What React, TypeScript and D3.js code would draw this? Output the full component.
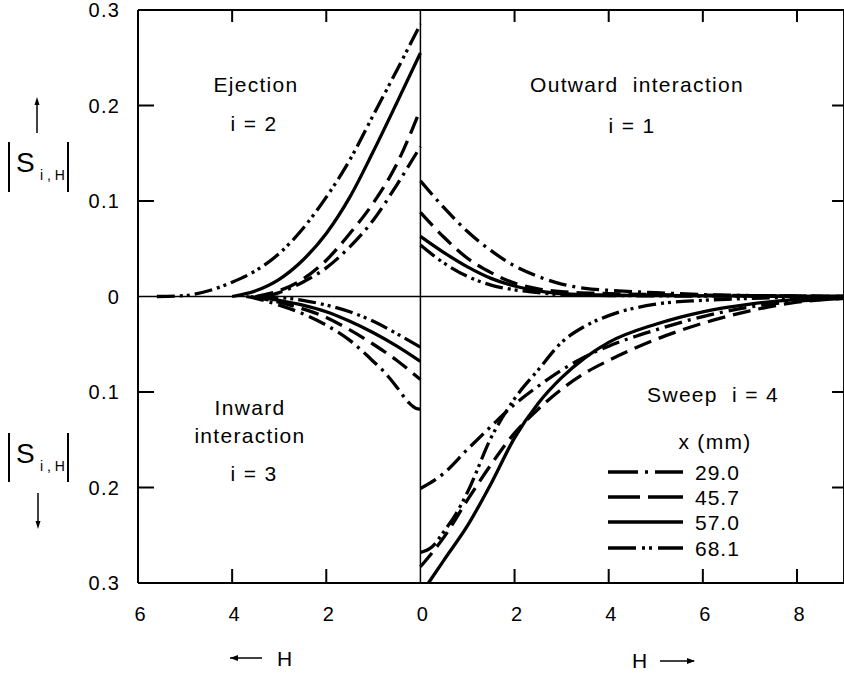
import React from "react";
import * as d3 from "d3";

// ---- data (H, |S_i,H|) ----
const seriesLabels = ["29.0", "45.7", "57.0", "68.1"];
const xTicksLeft = [6, 4, 2];
const xTicksRight = [0, 2, 4, 6, 8];
const yTickValues = [0.3, 0.2, 0.1, 0, 0.1, 0.2, 0.3];

// Ejection i=2 (upper left)
const ejection29 = [[0, 0.157], [0.5, 0.117], [1, 0.08], [1.5, 0.052], [2, 0.03], [2.5, 0.015], [3, 0.004], [3.3, 0]];
const ejection45 = [[0, 0.196], [0.5, 0.139], [1, 0.098], [1.5, 0.066], [2, 0.038], [2.5, 0.018], [3, 0.006], [3.5, 0]];
const ejection57 = [[0, 0.255], [0.5, 0.203], [1, 0.152], [1.5, 0.104], [2, 0.066], [2.5, 0.038], [3, 0.018], [3.5, 0.006], [4, 0]];
const ejection68 = [[0, 0.285], [0.5, 0.237], [1, 0.19], [1.5, 0.143], [2, 0.104], [2.5, 0.071], [3, 0.045], [3.5, 0.027], [4, 0.015], [4.5, 0.006], [5, 0.001], [5.6, 0]];

// Outward interaction i=1 (upper right)
const outward29 = [[0, 0.121], [0.5, 0.093], [1, 0.068], [1.5, 0.048], [2, 0.032], [2.5, 0.021], [3, 0.013], [3.5, 0.0085], [4, 0.0065], [5, 0.004], [6, 0.002], [7, 0.001], [9, 0]];
const outward45 = [[0, 0.088], [0.5, 0.062], [1, 0.04], [1.5, 0.025], [2, 0.014], [2.5, 0.008], [3, 0.005], [4, 0.003], [5, 0.002], [6, 0.0015], [9, 0]];
const outward57 = [[0, 0.063], [0.5, 0.046], [1, 0.031], [1.5, 0.019], [2, 0.011], [2.5, 0.006], [3, 0.003], [4, 0.0015], [9, 0]];
const outward68 = [[0, 0.054], [0.5, 0.035], [1, 0.021], [1.5, 0.012], [2, 0.007], [2.5, 0.004], [3, 0.002], [4, 0.001], [9, 0]];

// Inward interaction i=3 (lower left)
const inward29 = [[0, 0.118], [0.1, 0.117], [0.25, 0.111], [0.5, 0.095], [0.75, 0.08], [1, 0.068], [1.5, 0.046], [2, 0.03], [2.5, 0.018], [3, 0.009], [3.5, 0.002], [3.7, 0]];
const inward45 = [[0, 0.087], [0.5, 0.067], [1, 0.05], [1.5, 0.035], [2, 0.022], [2.5, 0.013], [3, 0.006], [3.6, 0]];
const inward57 = [[0, 0.068], [0.5, 0.052], [1, 0.038], [1.5, 0.026], [2, 0.016], [2.5, 0.009], [3, 0.004], [3.5, 0]];
const inward68 = [[0, 0.053], [0.5, 0.039], [1, 0.026], [1.5, 0.016], [2, 0.009], [2.5, 0.004], [3, 0.001], [3.4, 0]];

// Sweep i=4 (lower right)
const sweep29 = [[0, 0.201], [0.5, 0.185], [1, 0.16], [1.5, 0.136], [2, 0.113], [2.5, 0.094], [3, 0.077], [3.5, 0.063], [4, 0.052], [5, 0.035], [6, 0.021], [7, 0.011], [8, 0.005], [9, 0.002]];
const sweep45 = [[0, 0.283], [0.5, 0.252], [1, 0.213], [1.5, 0.176], [2, 0.143], [2.5, 0.118], [3, 0.097], [3.5, 0.08], [4, 0.067], [5, 0.045], [6, 0.028], [7, 0.015], [8, 0.006], [9, 0.002]];
const sweep57 = [[0.17, 0.3], [0.5, 0.276], [1, 0.24], [1.5, 0.196], [2, 0.148], [2.5, 0.112], [3, 0.085], [3.5, 0.064], [4, 0.048], [5, 0.029], [6, 0.016], [7, 0.008], [8, 0.003], [9, 0.001]];
const sweep68 = [[0, 0.268], [0.25, 0.262], [0.5, 0.246], [0.75, 0.228], [1, 0.205], [1.5, 0.148], [2, 0.107], [2.5, 0.077], [3, 0.048], [3.5, 0.031], [4, 0.02], [5, 0.008], [6, 0.004], [7, 0.002], [9, 0]];

const FONT = "'Liberation Sans', Arial, Helvetica, sans-serif";
const dashes = ["18 6 3 6", "18 8", "none", "18 5 3 4 3 5"];
const NB = "\u00a0";

export default function App() {
  const x = d3.scaleLinear().domain([-6, 9]).range([138, 138 + 15 * 47.07]);
  const y = d3.scaleLinear().domain([-0.3, 0.3]).range([583, 10]);
  const left = x(-6), right = x(9), top = y(0.3), bottom = y(-0.3);
  const x0 = x(0), y0 = y(0);

  const quadrants = [
    { sx: -1, sy: 1, curves: [ejection29, ejection45, ejection57, ejection68] },
    { sx: 1, sy: 1, curves: [outward29, outward45, outward57, outward68] },
    { sx: -1, sy: -1, curves: [inward29, inward45, inward57, inward68] },
    { sx: 1, sy: -1, curves: [sweep29, sweep45, sweep57, sweep68] },
  ];

  const line = d3.line<number[]>().x((d) => d[0]).y((d) => d[1]).curve(d3.curveMonotoneX);

  const paths: JSX.Element[] = [];
  quadrants.forEach((q, qi) => {
    q.curves.forEach((c, si) => {
      const pts = c.map(([h, v]) => [x(q.sx * h), y(q.sy * v)]).sort((a, b) => a[0] - b[0]);
      paths.push(
        <path key={`${qi}-${si}`} d={line(pts) || ""} fill="none" stroke="#000" strokeWidth={3.3}
          strokeDasharray={dashes[si]} strokeLinecap="butt" />
      );
    });
  });

  const yTickYs = yTickValues.map((v, i) => y(i < 3 ? v : i === 3 ? 0 : -v));
  const xTickVals = [...xTicksLeft.map((h) => -h), ...xTicksRight];
  const xTickLabels = [...xTicksLeft, ...xTicksRight];

  const legendY = [472, 497, 522, 548];

  return (
    <svg width={844} height={673} style={{ position: "absolute", left: 0, top: 0, background: "#fff" }}
      fontFamily={FONT}>
      <rect x={0} y={0} width={844} height={673} fill="#fff" />
      {/* frame */}
      <line x1={left} x2={left} y1={top} y2={bottom} stroke="#000" strokeWidth={2} />
      <line x1={left} x2={right} y1={top} y2={top} stroke="#000" strokeWidth={2} />
      <line x1={left} x2={right} y1={bottom} y2={bottom} stroke="#000" strokeWidth={2} />
      <line x1={right} x2={right} y1={top} y2={bottom} stroke="#000" strokeWidth={2} />
      <line x1={x0} x2={x0} y1={top} y2={bottom} stroke="#000" strokeWidth={1.5} />
      <line x1={left} x2={right} y1={y0} y2={y0} stroke="#000" strokeWidth={1.5} />

      {/* y ticks */}
      {yTickValues.map((v, i) => {
        const yy = yTickYs[i];
        const edge = i === 0 || i === 6 || i === 3;
        return (
          <g key={`yt${i}`}>
            {!edge && <line x1={left} x2={left + 16} y1={yy} y2={yy} stroke="#000" strokeWidth={2} />}
            {!edge && <line x1={right - 12} x2={right} y1={yy} y2={yy} stroke="#000" strokeWidth={2} />}
            <text x={120} y={yy + 7} textAnchor="end" fontSize={20} letterSpacing={1.2}>
              {v === 0 ? "0" : v.toFixed(1)}
            </text>
          </g>
        );
      })}

      {/* x ticks */}
      {xTickVals.map((h, i) => {
        const xx = x(h);
        const edge = h === -6 || h === 0;
        return (
          <g key={`xt${i}`}>
            {!edge && <line x1={xx} x2={xx} y1={bottom} y2={bottom - 14} stroke="#000" strokeWidth={2} />}
            {!edge && <line x1={xx} x2={xx} y1={top} y2={top + 12} stroke="#000" strokeWidth={2} />}
            <text x={xx + 2} y={621} textAnchor="middle" fontSize={20}>{xTickLabels[i]}</text>
          </g>
        );
      })}

      {paths}

      {/* axis labels */}
      <g>
        <line x1={230} x2={262} y1={658} y2={658} stroke="#000" strokeWidth={1.5} />
        <path d="M230,658 L238,655 L238,661 Z" fill="#000" />
        <text x={277} y={666} fontSize={21}>H</text>
        <text x={632} y={668} fontSize={21}>H</text>
        <line x1={660} x2={694} y1={661} y2={661} stroke="#000" strokeWidth={1.5} />
        <path d="M695,661 L687,658 L687,664 Z" fill="#000" />
      </g>

      {/* y label */}
      {[{ y1: 142, y2: 192, arrowUp: true }, { y1: 433, y2: 482, arrowUp: false }].map((g, i) => (
        <g key={`yl${i}`}>
          <line x1={9} x2={9} y1={g.y1} y2={g.y2} stroke="#000" strokeWidth={2} />
          <line x1={68} x2={68} y1={g.y1} y2={g.y2} stroke="#000" strokeWidth={2} />
          <text x={16} y={g.y1 + 30} fontSize={28}>S</text>
          <text x={40} y={g.y1 + 38} fontSize={14} fill="#000">{`i${NB},${NB}H`}</text>
          {g.arrowUp ? (
            <g>
              <line x1={37} x2={37} y1={102} y2={133} stroke="#000" strokeWidth={1.5} />
              <path d="M37,97 L34.5,105 L39.5,105 Z" fill="#000" />
            </g>
          ) : (
            <g>
              <line x1={38} x2={38} y1={493} y2={524} stroke="#000" strokeWidth={1.5} />
              <path d="M38,529 L35.5,521 L40.5,521 Z" fill="#000" />
            </g>
          )}
        </g>
      ))}

      {/* quadrant annotations */}
      <g fontSize={21} letterSpacing={1.3}>
        <text x={256} y={92} textAnchor="middle">Ejection</text>
        <text x={254} y={131} textAnchor="middle">i = 2</text>
        <text x={637} y={92} textAnchor="middle">{`Outward${NB}${NB}interaction`}</text>
        <text x={632} y={133} textAnchor="middle">i = 1</text>
        <text x={250} y={415} textAnchor="middle">Inward</text>
        <text x={250} y={443} textAnchor="middle">interaction</text>
        <text x={254} y={481} textAnchor="middle">i = 3</text>
        <text x={713} y={402} textAnchor="middle">{`Sweep${NB}${NB}i = 4`}</text>
        <text x={715} y={449} textAnchor="middle">x (mm)</text>
      </g>

      {/* legend */}
      {seriesLabels.map((s, i) => (
        <g key={`lg${i}`}>
          <line x1={608} x2={683} y1={legendY[i]} y2={legendY[i]} stroke="#000" strokeWidth={3.3}
            strokeDasharray={i === 0 ? "30 7 3 7 40" : i === 1 ? "32 8 40" : i === 3 ? "28 6 3 4 3 6 40" : "none"} />
          <text x={695} y={legendY[i] + 8} fontSize={21} letterSpacing={1}>{s}</text>
        </g>
      ))}
    </svg>
  );
}
